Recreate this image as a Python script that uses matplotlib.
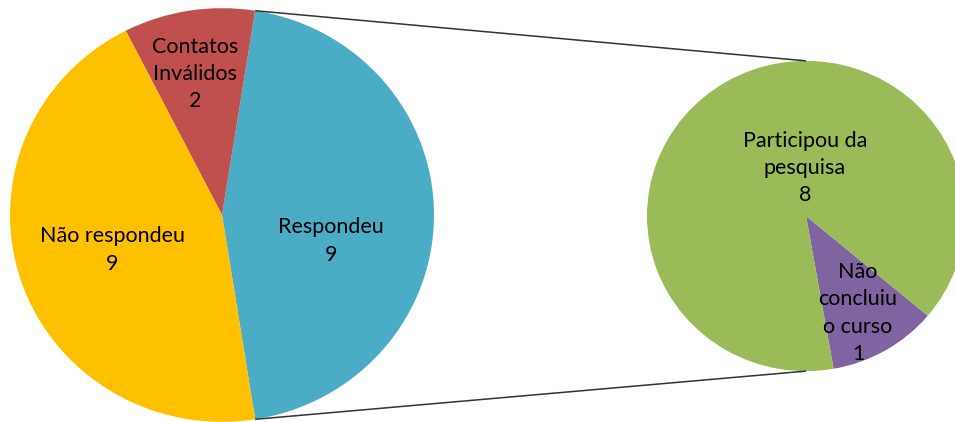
import math
import matplotlib
matplotlib.use("Agg")
import matplotlib.pyplot as plt

# main pie
main_labels = ["Respondeu", "Contatos\nInválidos", "Não respondeu"]
main_values = [9, 2, 9]
main_colors = ["#4BACC6", "#C0504D", "#FFC000"]

# secondary pie (breakdown of "Respondeu")
sub_labels = ["Não\nconcluiu\no curso", "Participou da\npesquisa"]
sub_values = [1, 8]
sub_colors = ["#8064A2", "#9BBB59"]

W, H = 955, 422
k = 1.025  # slight vertical squash as in the original


def px(x, y):
    return x, (H - y) * k


fig = plt.figure(figsize=(W / 100, H / 100), dpi=100)
ax = fig.add_axes([0, 0, 1, 1])

c1, r1 = px(222, 215), 212
c2, r2 = px(806, 216), 159

# the split wedge ("Respondeu") is centred on the right side
half = main_values[0] / sum(main_values) * 180
ax.pie(main_values, colors=main_colors, startangle=-half,
       center=c1, radius=r1, counterclock=True, wedgeprops=dict(linewidth=0))
ax.pie(sub_values, colors=sub_colors, startangle=-80,
       center=c2, radius=r2, counterclock=True, wedgeprops=dict(linewidth=0))

# connector lines from the split wedge to the secondary pie
for sgn in (1, -1):
    a = math.radians(sgn * half)
    x0 = c1[0] + r1 * math.cos(a)
    y0 = c1[1] + r1 * math.sin(a)
    x1 = c2[0]
    y1 = c2[1] + sgn * r2
    ax.plot([x0, x1], [y0, y1], color="#333333", lw=1.1, solid_capstyle="butt")

font = dict(family="Lato", fontsize=15.5, color="black", ha="center", va="center", linespacing=1.45)
for lab, v, pos in zip(main_labels, main_values, [(331, 241), (195, 74), (112, 250)]):
    ax.text(*px(*pos), f"{lab}\n{v}", **font)
for lab, v, pos in zip(sub_labels, sub_values, [(858, 313), (805, 168)]):
    ax.text(*px(*pos), f"{lab}\n{v}", **font)

ax.set_aspect("auto")
ax.set_xlim(0, W)
ax.set_ylim(0, H * k)
ax.axis("off")

fig.savefig("out.png", dpi=100)
